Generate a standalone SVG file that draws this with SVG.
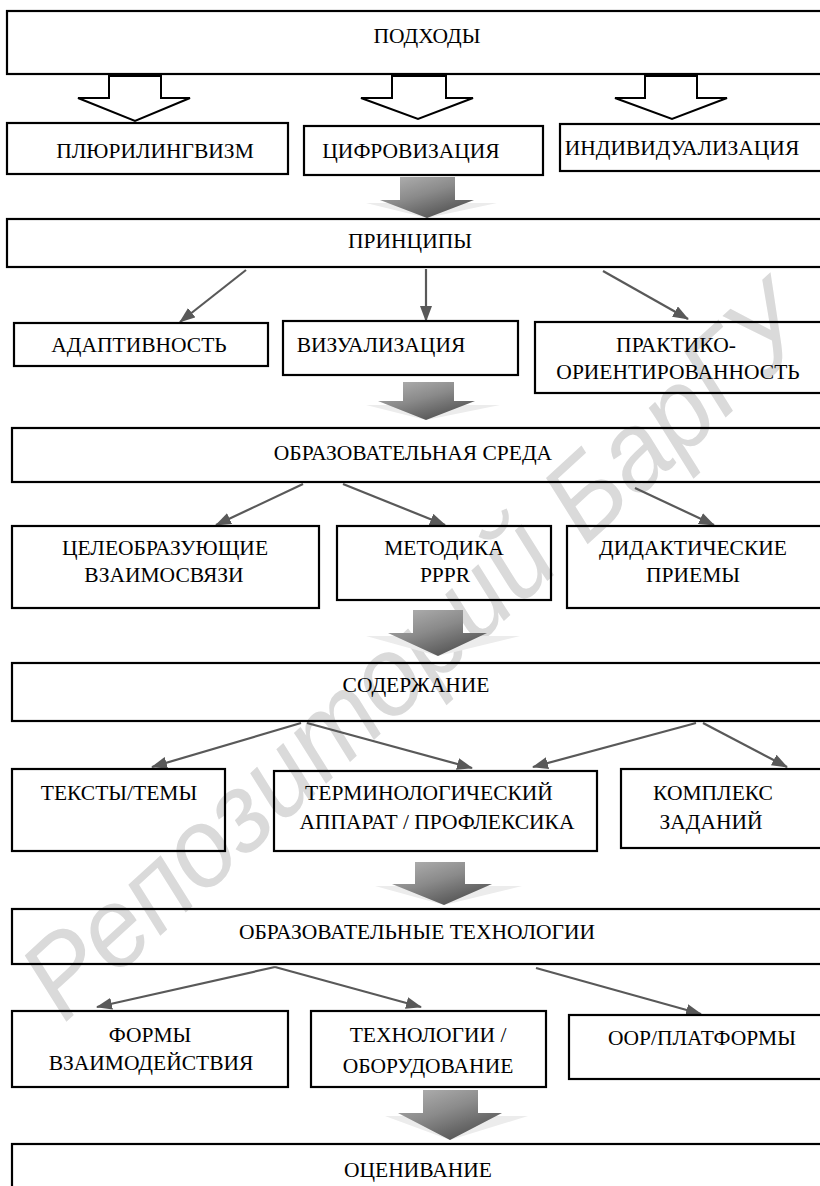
<svg xmlns="http://www.w3.org/2000/svg" width="820" height="1186" viewBox="0 0 820 1186">
<defs>
<style>
.box{fill:none;stroke:#000;stroke-width:2.2}
.t{font-size:21.5px;fill:#000;text-anchor:middle}
.hollow{fill:#fff;stroke:#000;stroke-width:2;stroke-linejoin:miter}
.conn{stroke:#595959;stroke-width:2.2;fill:none;marker-end:url(#ah)}
.wm{font-style:italic;font-size:112px;fill:#dadada}
.shadow{fill:#ececec}
</style>
<marker id="ah" viewBox="0 0 16 12" refX="15" refY="6" markerWidth="16" markerHeight="12" markerUnits="userSpaceOnUse" orient="auto">
<path d="M0,0 L16,6 L0,12 Z" fill="#595959"/>
</marker>
<linearGradient id="gg" x1="0" y1="0" x2="0.7" y2="1">
<stop offset="0" stop-color="#b4b4b4"/>
<stop offset="0.5" stop-color="#8a8a8a"/>
<stop offset="1" stop-color="#505050"/>
</linearGradient>
</defs>
<rect x="0" y="0" width="820" height="1186" fill="#fff"/>
<g id="watermark" font-family="Liberation Sans, Arial, sans-serif">
<text class="wm" transform="translate(64,1024) rotate(-42.5)" textLength="1020" lengthAdjust="spacingAndGlyphs">Репозиторий БарГУ</text>
</g>
<g id="block-arrows">
<polygon points="109,76 161,76 161,98 190,98 135,121 78,98 109,98" class="hollow"/>
<polygon points="392,76 446,76 446,98 473,98 418,119 361,98 392,98" class="hollow"/>
<polygon points="645,76 697,76 697,98 727,98 672,119 615,98 645,98" class="hollow"/>
<g>
<polygon class="shadow" points="366,203 497,203 427,218"/>
<polygon fill="url(#gg)" points="400,177 455,177 455,200 474,200 427,218 380,200 400,200"/>
</g>
<g>
<polygon class="shadow" points="366,405 500,405 426,420"/>
<polygon fill="url(#gg)" points="403,382 454,382 454,401 475,401 426,420 378,401 403,401"/>
</g>
<g>
<polygon class="shadow" points="366,636 520,636 438,656"/>
<polygon fill="url(#gg)" points="413,610 463,610 463,633 487,633 438,656 388,633 413,633"/>
</g>
<g>
<polygon class="shadow" points="375,886 522,886 444,905"/>
<polygon fill="url(#gg)" points="415,862 465,862 465,884 492,884 444,905 392,884 415,884"/>
</g>
<g>
<polygon class="shadow" points="385,1116 528,1116 450,1140"/>
<polygon fill="url(#gg)" points="423,1090 478,1090 478,1113 502,1113 450,1140 398,1113 423,1113"/>
</g>
</g>
<g id="connectors">
<line class="conn" x1="246" y1="270" x2="180" y2="322"/>
<line class="conn" x1="426" y1="269" x2="426" y2="321"/>
<line class="conn" x1="603" y1="271" x2="688" y2="319"/>
<line class="conn" x1="303" y1="484" x2="216" y2="525"/>
<line class="conn" x1="343" y1="484" x2="445" y2="525"/>
<line class="conn" x1="635" y1="488" x2="714" y2="525"/>
<line class="conn" x1="301" y1="723" x2="152" y2="767"/>
<line class="conn" x1="307" y1="723" x2="472" y2="768"/>
<line class="conn" x1="696" y1="723" x2="533" y2="767"/>
<line class="conn" x1="703" y1="723" x2="787" y2="767"/>
<line class="conn" x1="275" y1="967" x2="97" y2="1007"/>
<line class="conn" x1="275" y1="967" x2="421" y2="1007"/>
<line class="conn" x1="536" y1="968" x2="701" y2="1014"/>
</g>
<g id="nodes" font-family="Liberation Serif, Times New Roman, serif">
<g id="n-podhody"><rect class="box" x="7" y="11" width="830" height="63"/><text class="t" x="427" y="43">ПОДХОДЫ</text></g>
<g id="n-pluri"><rect class="box" x="7" y="123" width="281" height="51"/><text class="t" x="155" y="158">ПЛЮРИЛИНГВИЗМ</text></g>
<g id="n-cifro"><rect class="box" x="304" y="126" width="239" height="49"/><text class="t" x="411" y="158">ЦИФРОВИЗАЦИЯ</text></g>
<g id="n-indiv"><rect class="box" x="560" y="124" width="270" height="47"/><text class="t" x="682" y="155">ИНДИВИДУАЛИЗАЦИЯ</text></g>
<g id="n-princ"><rect class="box" x="7" y="219" width="830" height="48"/><text class="t" x="410" y="248">ПРИНЦИПЫ</text></g>
<g id="n-adapt"><rect class="box" x="14" y="323" width="254" height="43"/><text class="t" x="139" y="352">АДАПТИВНОСТЬ</text></g>
<g id="n-vizual"><rect class="box" x="283" y="321" width="235" height="54"/><text class="t" x="381" y="352">ВИЗУАЛИЗАЦИЯ</text></g>
<g id="n-prakt"><rect class="box" x="535" y="322" width="295" height="71"/><text class="t" x="676" y="352">ПРАКТИКО-</text><text class="t" x="678" y="379">ОРИЕНТИРОВАННОСТЬ</text></g>
<g id="n-sreda"><rect class="box" x="12" y="428" width="830" height="54"/><text class="t" x="413" y="460">ОБРАЗОВАТЕЛЬНАЯ СРЕДА</text></g>
<g id="n-celeo"><rect class="box" x="12" y="526" width="307" height="82"/><text class="t" x="165" y="555">ЦЕЛЕОБРАЗУЮЩИЕ</text><text class="t" x="164" y="582">ВЗАИМОСВЯЗИ</text></g>
<g id="n-metod"><rect class="box" x="337" y="526" width="214" height="74"/><text class="t" x="444" y="555">МЕТОДИКА</text><text class="t" x="445" y="582">PPPR</text></g>
<g id="n-didakt"><rect class="box" x="567" y="526" width="263" height="82"/><text class="t" x="693" y="555">ДИДАКТИЧЕСКИЕ</text><text class="t" x="693" y="582">ПРИЕМЫ</text></g>
<g id="n-soderzh"><rect class="box" x="12" y="663" width="830" height="58"/><text class="t" x="416" y="692">СОДЕРЖАНИЕ</text></g>
<g id="n-teksty"><rect class="box" x="12" y="769" width="213" height="82"/><text class="t" x="119" y="800">ТЕКСТЫ/ТЕМЫ</text></g>
<g id="n-termin"><rect class="box" x="274" y="771" width="323" height="80"/><text class="t" x="429" y="800">ТЕРМИНОЛОГИЧЕСКИЙ</text><text class="t" x="437" y="829">АППАРАТ / ПРОФЛЕКСИКА</text></g>
<g id="n-kompl"><rect class="box" x="621" y="769" width="209" height="79"/><text class="t" x="713" y="800">КОМПЛЕКС</text><text class="t" x="711" y="829">ЗАДАНИЙ</text></g>
<g id="n-tehnol"><rect class="box" x="12" y="909" width="830" height="55"/><text class="t" x="417" y="939">ОБРАЗОВАТЕЛЬНЫЕ ТЕХНОЛОГИИ</text></g>
<g id="n-formy"><rect class="box" x="12" y="1011" width="276" height="76"/><text class="t" x="150" y="1042">ФОРМЫ</text><text class="t" x="151" y="1070">ВЗАИМОДЕЙСТВИЯ</text></g>
<g id="n-tehobor"><rect class="box" x="311" y="1011" width="235" height="76"/><text class="t" x="428" y="1042">ТЕХНОЛОГИИ /</text><text class="t" x="428" y="1073">ОБОРУДОВАНИЕ</text></g>
<g id="n-oor"><rect class="box" x="569" y="1015" width="261" height="64"/><text class="t" x="702" y="1045">ООР/ПЛАТФОРМЫ</text></g>
<g id="n-ocen"><rect class="box" x="12" y="1144" width="830" height="60"/><text class="t" x="418" y="1177">ОЦЕНИВАНИЕ</text></g>
</g>
</svg>
